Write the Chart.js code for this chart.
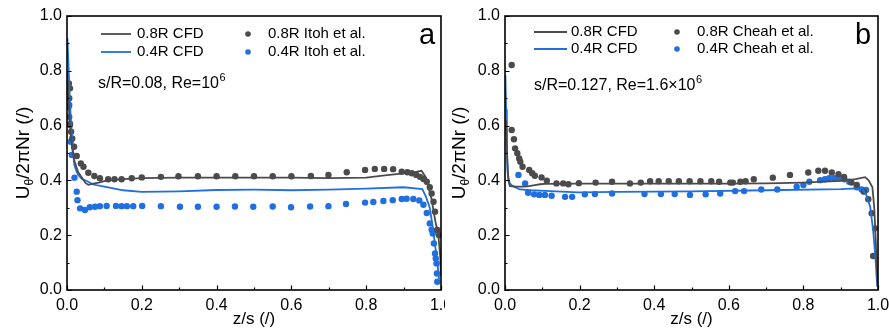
<!DOCTYPE html>
<html>
<head>
<meta charset="utf-8">
<script src="https://cdn.jsdelivr.net/npm/chart.js@4.4.0/dist/chart.umd.min.js"></script>
<style>
  html, body { margin: 0; padding: 0; background: #fff; }
  #wrap { position: relative; width: 889px; height: 334px; overflow: hidden; }
  #leftBox { position: absolute; left: 0; top: 0; width: 445px; height: 334px; }
  #rightBox { position: absolute; left: 445px; top: 0; width: 444px; height: 334px; background: #fff; }
</style>
</head>
<body>
<div id="wrap">
  <div id="leftBox"><canvas id="chartA" width="445" height="334"></canvas></div>
  <div id="rightBox"><canvas id="chartB" width="444" height="334"></canvas></div>
</div>
<script>
// axis ticks (both panels, both axes)
var majorTicks = [0, 0.2, 0.4, 0.6, 0.8, 1.0];
var minorTicks = [0.1, 0.3, 0.5, 0.7, 0.9];

// ---- panel a : s/R=0.08, Re=10^6 ----
var cfdA08_z = [0, 0.003, 0.006, 0.01, 0.015, 0.02, 0.03, 0.04, 0.05, 0.057, 0.07, 0.085, 0.1, 0.12, 0.15, 0.2, 0.3, 0.4, 0.5, 0.6, 0.7, 0.8, 0.85, 0.9, 0.93, 0.948, 0.96, 0.975, 0.985, 0.993, 0.998, 1.0];
var cfdA08_v = [0.80, 0.72, 0.64, 0.57, 0.51, 0.47, 0.43, 0.41, 0.39, 0.384, 0.388, 0.392, 0.397, 0.401, 0.405, 0.408, 0.41, 0.41, 0.41, 0.41, 0.408, 0.41, 0.418, 0.426, 0.43, 0.435, 0.41, 0.33, 0.25, 0.2, 0.12, 0.05];
var cfdA04_z = [0.001, 0.004, 0.008, 0.012, 0.016, 0.02, 0.025, 0.03, 0.04, 0.053, 0.07, 0.1, 0.15, 0.2, 0.3, 0.4, 0.5, 0.6, 0.7, 0.8, 0.9, 0.95, 0.96, 0.97, 0.98, 0.99, 0.995];
var cfdA04_v = [0.92, 0.82, 0.68, 0.58, 0.5, 0.455, 0.435, 0.42, 0.405, 0.398, 0.385, 0.377, 0.364, 0.358, 0.36, 0.365, 0.366, 0.364, 0.366, 0.37, 0.375, 0.368, 0.34, 0.3, 0.21, 0.1, 0.04];
var itoh08_z = [0.005, 0.008, 0.006, 0.004, 0.006, 0.008, 0.011, 0.014, 0.019, 0.026, 0.037, 0.044, 0.057, 0.073, 0.088, 0.11, 0.127, 0.146, 0.173, 0.2, 0.251, 0.298, 0.35, 0.4, 0.45, 0.5, 0.55, 0.6, 0.652, 0.699, 0.748, 0.797, 0.823, 0.848, 0.872, 0.895, 0.91, 0.922, 0.934, 0.944, 0.953, 0.962, 0.97, 0.975, 0.98, 0.984, 0.99, 0.995];
var itoh08_v = [0.754, 0.736, 0.70, 0.669, 0.632, 0.602, 0.578, 0.553, 0.523, 0.489, 0.462, 0.45, 0.428, 0.416, 0.408, 0.404, 0.404, 0.404, 0.408, 0.411, 0.413, 0.415, 0.415, 0.415, 0.415, 0.415, 0.415, 0.415, 0.416, 0.42, 0.43, 0.438, 0.442, 0.442, 0.441, 0.432, 0.43, 0.426, 0.42, 0.413, 0.405, 0.395, 0.375, 0.352, 0.322, 0.286, 0.219, 0.2];
var itoh04_z = [0.006, 0.008, 0.01, 0.013, 0.02, 0.026, 0.028, 0.035, 0.048, 0.061, 0.075, 0.088, 0.106, 0.131, 0.146, 0.16, 0.177, 0.201, 0.251, 0.302, 0.35, 0.4, 0.449, 0.498, 0.55, 0.599, 0.65, 0.699, 0.746, 0.797, 0.819, 0.846, 0.871, 0.895, 0.908, 0.926, 0.942, 0.953, 0.962, 0.97, 0.975, 0.978, 0.981, 0.984, 0.986, 0.988, 0.989, 0.99];
var itoh04_v = [0.675, 0.608, 0.541, 0.493, 0.41, 0.359, 0.328, 0.298, 0.292, 0.302, 0.304, 0.306, 0.307, 0.307, 0.306, 0.306, 0.306, 0.307, 0.306, 0.304, 0.304, 0.304, 0.305, 0.304, 0.305, 0.302, 0.305, 0.306, 0.314, 0.319, 0.321, 0.325, 0.328, 0.332, 0.333, 0.332, 0.327, 0.311, 0.281, 0.243, 0.22, 0.206, 0.17, 0.133, 0.115, 0.097, 0.06, 0.03];

// ---- panel b : s/R=0.127, Re=1.6x10^6 ----
var cfdB08_z = [0.003, 0.006, 0.009, 0.013, 0.03, 0.045, 0.06, 0.08, 0.094, 0.107, 0.2, 0.3, 0.4, 0.5, 0.6, 0.7, 0.8, 0.9, 0.94, 0.965, 0.975, 0.985, 0.99, 0.995, 0.999];
var cfdB08_v = [0.62, 0.48, 0.40, 0.379, 0.377, 0.377, 0.378, 0.383, 0.386, 0.387, 0.388, 0.388, 0.388, 0.388, 0.388, 0.389, 0.392, 0.398, 0.405, 0.412, 0.4, 0.375, 0.3, 0.15, 0.02];
var cfdB04_z = [0.001, 0.003, 0.005, 0.007, 0.01, 0.013, 0.02, 0.04, 0.07, 0.107, 0.196, 0.3, 0.5, 0.7, 0.9, 0.93, 0.956, 0.968, 0.979, 0.987, 0.993, 0.998];
var cfdB04_v = [0.785, 0.66, 0.52, 0.43, 0.405, 0.389, 0.38, 0.367, 0.364, 0.362, 0.356, 0.358, 0.36, 0.364, 0.368, 0.37, 0.371, 0.35, 0.304, 0.218, 0.12, 0.012];
var cheah08_z = [0.018, 0.018, 0.024, 0.027, 0.033, 0.038, 0.041, 0.047, 0.065, 0.073, 0.08, 0.098, 0.112, 0.138, 0.156, 0.17, 0.198, 0.243, 0.287, 0.335, 0.364, 0.389, 0.412, 0.439, 0.466, 0.495, 0.524, 0.553, 0.574, 0.604, 0.611, 0.631, 0.645, 0.667, 0.718, 0.764, 0.813, 0.84, 0.858, 0.876, 0.894, 0.909, 0.929, 0.943, 0.962, 0.974, 0.983, 0.992, 0.987];
var cheah08_v = [0.821, 0.584, 0.55, 0.517, 0.499, 0.48, 0.468, 0.45, 0.438, 0.426, 0.417, 0.411, 0.399, 0.389, 0.389, 0.386, 0.39, 0.392, 0.395, 0.389, 0.392, 0.397, 0.397, 0.397, 0.397, 0.397, 0.397, 0.397, 0.395, 0.392, 0.392, 0.395, 0.397, 0.404, 0.41, 0.42, 0.429, 0.435, 0.435, 0.429, 0.423, 0.413, 0.392, 0.383, 0.359, 0.331, 0.28, 0.225, 0.124];
var cheah04_z = [0.036, 0.054, 0.062, 0.078, 0.092, 0.107, 0.125, 0.161, 0.18, 0.214, 0.241, 0.287, 0.374, 0.418, 0.455, 0.496, 0.538, 0.577, 0.617, 0.641, 0.687, 0.73, 0.782, 0.8, 0.816, 0.845, 0.858, 0.869, 0.883, 0.896, 0.91, 0.923, 0.943, 0.956, 0.968];
var cheah04_v = [0.42, 0.389, 0.355, 0.349, 0.347, 0.347, 0.344, 0.34, 0.34, 0.349, 0.35, 0.352, 0.35, 0.35, 0.35, 0.347, 0.349, 0.352, 0.361, 0.361, 0.367, 0.367, 0.377, 0.383, 0.395, 0.401, 0.404, 0.408, 0.408, 0.408, 0.404, 0.395, 0.375, 0.367, 0.365];

var FONT = "'Liberation Sans', Arial, Helvetica, sans-serif";
var GREY = '#4b4b4b';
var BLUE = '#1f6fe0';

function pairs(xs, ys) {
  return xs.map(function (x, i) { return { x: x, y: ys[i] }; });
}

function lineSet(label, xs, ys, color) {
  return { label: label, data: pairs(xs, ys), showLine: true, borderColor: color, borderWidth: 1.8,
           pointRadius: 0, fill: false, tension: 0, kind: 'line' };
}
function dotSet(label, xs, ys, color) {
  return { label: label, data: pairs(xs, ys), showLine: false, backgroundColor: color, borderWidth: 0,
           pointRadius: 3.2, kind: 'dot' };
}

// draws the frame, inward ticks, y title, legend, note and panel letter
var decoPlugin = {
  id: 'deco',
  afterDraw: function (chart, args, opts) {
    var ctx = chart.ctx, a = chart.chartArea;
    var sx = chart.scales.x, sy = chart.scales.y;
    ctx.save();
    ctx.strokeStyle = '#000';
    ctx.lineWidth = 1.2;
    ctx.beginPath();
    majorTicks.concat(minorTicks).forEach(function (v) {
      var len = minorTicks.indexOf(v) >= 0 ? 2.5 : 4.5;
      var px = Math.round(sx.getPixelForValue(v)) + 0.5;
      ctx.moveTo(px, a.bottom); ctx.lineTo(px, a.bottom - len);
      var py = Math.round(sy.getPixelForValue(v)) + 0.5;
      ctx.moveTo(a.left, py); ctx.lineTo(a.left + len, py);
    });
    ctx.stroke();
    ctx.lineWidth = 1.6;
    ctx.strokeRect(a.left, a.top, a.right - a.left, a.bottom - a.top);

    // y axis title  U_theta/2piNr (/)
    ctx.fillStyle = '#000';
    ctx.translate(a.left - opts.yTitleOffset, (a.top + a.bottom) / 2);
    ctx.rotate(-Math.PI / 2);
    ctx.textBaseline = 'middle';
    ctx.textAlign = 'left';
    var big = '19px ' + FONT, small = '12px ' + FONT;
    ctx.font = big;
    var w1 = ctx.measureText('U').width, w3 = ctx.measureText('/2\u03C0Nr (/)').width;
    ctx.font = small;
    var w2 = ctx.measureText('\u03B8').width;
    var s = -(w1 + w2 + w3) / 2;
    ctx.font = big; ctx.fillText('U', s, 0);
    ctx.font = small; ctx.fillText('\u03B8', s + w1, 6);
    ctx.font = big; ctx.fillText('/2\u03C0Nr (/)', s + w1 + w2, 0);
    ctx.restore();

    // legend
    var L = opts.legend;
    ctx.save();
    ctx.font = '15px ' + FONT;
    ctx.textBaseline = 'middle';
    ctx.fillStyle = '#000';
    var lineRow = 0, dotRow = 0;
    chart.data.datasets.forEach(function (ds) {
      var y;
      if (ds.kind === 'line') {
        y = a.top + L.rows[lineRow++];
        ctx.strokeStyle = ds.borderColor;
        ctx.lineWidth = 1.8;
        ctx.beginPath();
        ctx.moveTo(a.left + L.lineX0, y); ctx.lineTo(a.left + L.lineX1, y);
        ctx.stroke();
        ctx.fillStyle = '#000';
        ctx.fillText(ds.label, a.left + L.lineText, y);
      } else {
        y = a.top + L.rows[dotRow++];
        ctx.fillStyle = ds.backgroundColor;
        ctx.beginPath();
        ctx.arc(a.left + L.dotX, y, 2.8, 0, Math.PI * 2);
        ctx.fill();
        ctx.fillStyle = '#000';
        ctx.fillText(ds.label, a.left + L.dotText, y);
      }
    });

    // note with superscript
    ctx.textBaseline = 'alphabetic';
    ctx.font = '16px ' + FONT;
    var nx = a.left + opts.note.x, ny = a.top + opts.note.y;
    ctx.fillText(opts.note.text, nx, ny);
    var nw = ctx.measureText(opts.note.text).width;
    ctx.font = '11px ' + FONT;
    ctx.fillText(opts.note.sup, nx + nw + 0.5, ny - 7);

    // panel letter
    ctx.font = '29px ' + FONT;
    ctx.fillText(opts.letter, a.left + opts.letterX, a.top + 28);
    ctx.restore();
  }
};

function makeChart(id, datasets, yWidth, padRight, deco) {
  var tickFont = { family: FONT, size: 16 };
  return new Chart(document.getElementById(id), {
    type: 'scatter',
    data: { datasets: datasets },
    options: {
      responsive: false,
      animation: false,
      devicePixelRatio: 1,
      layout: { padding: { left: 0, right: padRight, top: 16, bottom: 0 } },
      plugins: { legend: { display: false }, tooltip: { enabled: false }, deco: deco },
      scales: {
        x: {
          type: 'linear', min: 0, max: 1,
          grid: { display: false, drawTicks: false }, border: { display: false },
          ticks: { stepSize: 0.2, padding: 6, color: '#000', font: tickFont, maxRotation: 0,
                   callback: function (v) { return Number(v).toFixed(1); } },
          title: { display: true, text: 'z/s (/)', color: '#000', font: { family: FONT, size: 17 },
                   padding: { top: 0, bottom: 4 } },
          afterFit: function (s) { s.height = 44; s.paddingLeft = 0; s.paddingRight = 0; }
        },
        y: {
          type: 'linear', min: 0, max: 1,
          grid: { display: false, drawTicks: false }, border: { display: false },
          ticks: { stepSize: 0.2, padding: 5, color: '#000', font: tickFont,
                   callback: function (v) { return Number(v).toFixed(1); } },
          afterFit: function (s) { s.width = yWidth; s.paddingTop = 0; s.paddingBottom = 0; }
        }
      }
    },
    plugins: [decoPlugin]
  });
}

makeChart('chartA', [
  lineSet('0.8R CFD', cfdA08_z, cfdA08_v, GREY),
  lineSet('0.4R CFD', cfdA04_z, cfdA04_v, BLUE),
  dotSet('0.8R Itoh et al.', itoh08_z, itoh08_v, GREY),
  dotSet('0.4R Itoh et al.', itoh04_z, itoh04_v, BLUE)
], 67, 4, {
  yTitleOffset: 43,
  legend: { rows: [18, 36], lineX0: 34, lineX1: 64, lineText: 70, dotX: 181, dotText: 201 },
  note: { x: 31, y: 72, text: 's/R=0.08, Re=10', sup: '6' },
  letter: 'a', letterX: 352
});

makeChart('chartB', [
  lineSet('0.8R CFD', cfdB08_z, cfdB08_v, GREY),
  lineSet('0.4R CFD', cfdB04_z, cfdB04_v, BLUE),
  dotSet('0.8R Cheah et al.', cheah08_z, cheah08_v, GREY),
  dotSet('0.4R Cheah et al.', cheah04_z, cheah04_v, BLUE)
], 60, 11, {
  yTitleOffset: 45,
  legend: { rows: [16, 33], lineX0: 29, lineX1: 62, lineText: 66, dotX: 172, dotText: 192 },
  note: { x: 29, y: 74, text: 's/R=0.127, Re=1.6\u00D710', sup: '6' },
  letter: 'b', letterX: 350
});
</script>
</body>
</html>
